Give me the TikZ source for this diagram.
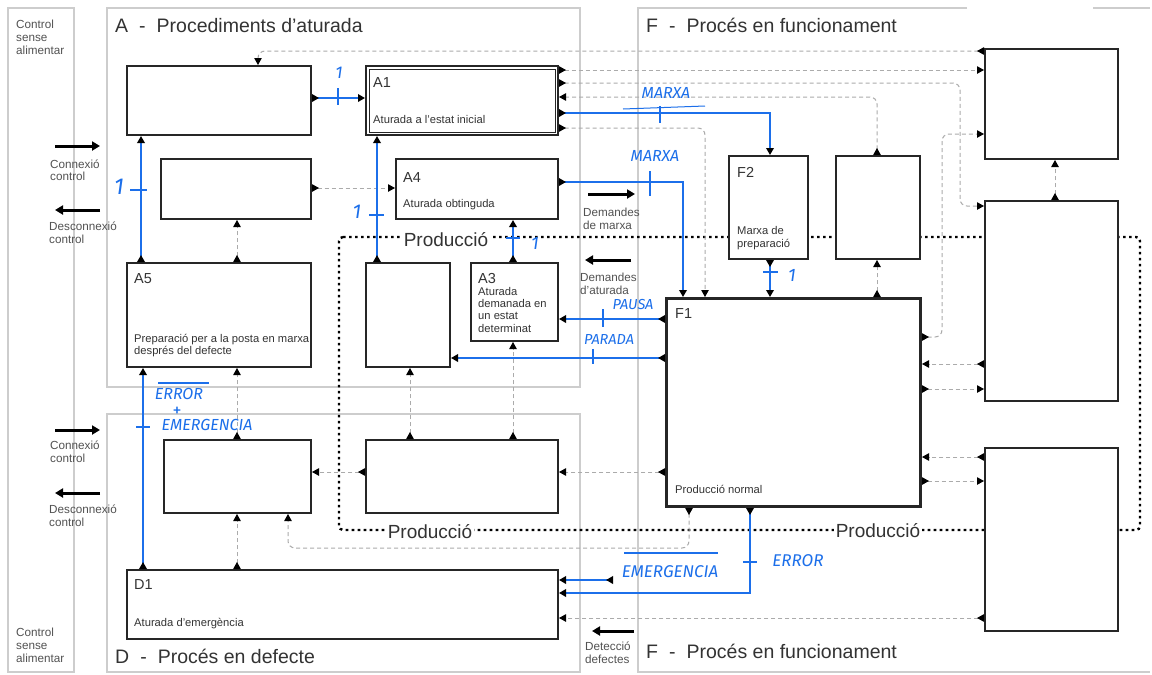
\documentclass[tikz,border=0pt]{standalone}
\usepackage{fontspec}
\setmainfont{Liberation Sans}
\newfontfamily\handfont{Fira Sans}
\usetikzlibrary{arrows.meta}

\definecolor{ink}{HTML}{333333}
\definecolor{panel}{HTML}{CDCDCD}
\definecolor{wire}{HTML}{ABABAB}
\definecolor{pen}{HTML}{1C6FEA}

\tikzset{
  mk/.tip={Triangle[length=7pt,width=7.5pt,color=black]},
  panelline/.style={draw=panel, line width=1.1pt},
  box/.style={draw=black!85, line width=2pt, fill=white, inner sep=0pt, anchor=north west},
  idtxt/.style={text=ink, font=\fontsize{14.5}{16}\selectfont, inner sep=0pt, anchor=base west},
  desc/.style={text=ink, font=\fontsize{11.2}{12}\selectfont, inner sep=0pt, anchor=base west},
  legtxt/.style={text=ink!85, font=\fontsize{11.7}{13}\selectfont, inner sep=0pt, anchor=base west},
  title/.style={text=ink, font=\fontsize{19.5}{22}\selectfont, inner sep=0pt, anchor=base west},
  prodtxt/.style={text=ink, font=\fontsize{19}{22}\selectfont, fill=white, inner sep=2pt, anchor=base},
  wire/.style={draw=wire, line width=1pt, dash pattern=on 4pt off 3pt, rounded corners=7pt, arrows={mk[reversed]-mk}},
  bluewire/.style={draw=pen, line width=2.8pt, arrows={mk[reversed]-mk}},
  tick/.style={draw=pen, line width=2.6pt},
  handtxt/.style={text=pen, font=\handfont\itshape\fontsize{16}{18}\selectfont, inner sep=0pt},
  capsonly/.style={text height=11pt, text depth=0pt},
  legarrow/.style={draw=black, line width=3pt, -{Triangle[length=8pt,width=9pt]}},
  prodline/.style={draw=black, line width=2.4pt, dash pattern=on 2.6pt off 3.4pt, rounded corners=4pt}
}

\begin{document}
\begin{tikzpicture}[x=1pt,y=-1pt]
\useasboundingbox[fill=white] (0,0) rectangle (1152,675);

% ---------- panels ----------
\draw[panelline] (8,8) rectangle (74,672);
\draw[panelline] (107,8) rectangle (580,387);
\draw[panelline] (107,414) rectangle (580,672);
\draw[panelline] (967,8) -- (638,8) -- (638,672) -- (1150,672);
\draw[panelline] (1093,8) -- (1150,8);

% ---------- production loop ----------
\draw[prodline] (339,237) -- (1140,237) -- (1140,530) -- (339,530) -- cycle;

% ---------- states ----------
\node[box, minimum width=184pt, minimum height=69pt]  (a6) at (126,65) {};
\node[box, minimum width=192pt, minimum height=69pt]  (a1) at (365,65) {};
\draw[line width=1pt, black!85] ([shift={(4,4)}]a1.north west) rectangle ([shift={(-4,-4)}]a1.south east);
\node[box, minimum width=150pt, minimum height=60pt]  (a7) at (160,158) {};
\node[box, minimum width=162pt, minimum height=60pt]  (a4) at (395,158) {};
\node[box, minimum width=184pt, minimum height=104pt] (a5) at (126,262) {};
\node[box, minimum width=84pt,  minimum height=104pt] (a2) at (365,262) {};
\node[box, minimum width=87pt,  minimum height=78pt]  (a3) at (470,262) {};
\node[box, minimum width=79pt,  minimum height=103pt] (f2) at (728,155) {};
\node[box, minimum width=84pt,  minimum height=103pt] (f3) at (835,155) {};
\node[box, line width=3pt, minimum width=254pt, minimum height=208pt] (f1) at (665,297) {};
\node[box, minimum width=133pt, minimum height=110pt] (f4) at (984,48) {};
\node[box, minimum width=133pt, minimum height=200pt] (f5) at (984,200) {};
\node[box, minimum width=133pt, minimum height=183pt] (f6) at (984,447) {};
\node[box, minimum width=147pt, minimum height=73pt]  (d2) at (163,439) {};
\node[box, minimum width=192pt, minimum height=73pt]  (d3) at (365,439) {};
\node[box, minimum width=431pt, minimum height=69pt]  (d1) at (126,569) {};

% state names and descriptions
\node[idtxt] (a1id) at ([shift={(8,22)}]a1.north west) {A1};
\node[desc]  (a1tx) at ([shift={(8,58)}]a1.north west) {Aturada a l'estat inicial};
\node[idtxt] (a4id) at ([shift={(8,24)}]a4.north west) {A4};
\node[desc]  (a4tx) at ([shift={(8,49)}]a4.north west) {Aturada obtinguda};
\node[idtxt] (a5id) at ([shift={(8,21)}]a5.north west) {A5};
\node[desc]  (a5t1) at ([shift={(8,80)}]a5.north west) {Preparació per a la posta en marxa};
\node[desc]  (a5t2) at ([shift={(8,92)}]a5.north west) {després del defecte};
\node[idtxt] (a3id) at ([shift={(8,21)}]a3.north west) {A3};
\node[desc]  (a3t1) at ([shift={(8,33)}]a3.north west) {Aturada};
\node[desc]  (a3t2) at ([shift={(8,45)}]a3.north west) {demanada en};
\node[desc]  (a3t3) at ([shift={(8,57.5)}]a3.north west) {un estat};
\node[desc]  (a3t4) at ([shift={(8,70)}]a3.north west) {determinat};
\node[idtxt] (f2id) at ([shift={(9,22)}]f2.north west) {F2};
\node[desc]  (f2t1) at ([shift={(9,79)}]f2.north west) {Marxa de};
\node[desc]  (f2t2) at ([shift={(9,92)}]f2.north west) {preparació};
\node[idtxt] (f1id) at ([shift={(10,21)}]f1.north west) {F1};
\node[desc]  (f1tx) at ([shift={(10,196)}]f1.north west) {Producció normal};
\node[idtxt] (d1id) at ([shift={(8,20)}]d1.north west) {D1};
\node[desc]  (d1tx) at ([shift={(8,57)}]d1.north west) {Aturada d'emergència};

% loop labels
\node[prodtxt] (prod1) at (446,246) {Producció};
\node[prodtxt] (prod2) at (430,538) {Producció};
\node[prodtxt] (prod3) at (878,537) {Producció};

% ---------- panel titles ----------
\node[title] (tA) at (115,32) {A\hspace{11pt}-\hspace{11pt}Procediments d'aturada};
\node[title] (tF) at (646,32) {F\hspace{11pt}-\hspace{11pt}Procés en funcionament};
\node[title] (tD) at (115,663) {D\hspace{11pt}-\hspace{11pt}Procés en defecte};
\node[title] (tF2) at (646,658) {F\hspace{11pt}-\hspace{11pt}Procés en funcionament};

% ---------- side legends ----------
\node[legtxt] (cs1) at (16,28) {Control};
\node[legtxt] (cs2) at (16,41) {sense};
\node[legtxt] (cs3) at (16,54) {alimentar};
\node[legtxt] (cs4) at (16,636) {Control};
\node[legtxt] (cs5) at (16,649) {sense};
\node[legtxt] (cs6) at (16,662) {alimentar};

\draw[legarrow] (55,146) -- (100,146);
\node[legtxt] (cn1) at (50,168) {Connexió};
\node[legtxt] (cn2) at (50,180) {control};
\draw[legarrow] (100,210) -- (55,210);
\node[legtxt] (dc1) at (49,230) {Desconnexió};
\node[legtxt] (dc2) at (49,243) {control};
\draw[legarrow] (55,430) -- (100,430);
\node[legtxt] (cn3) at (50,449) {Connexió};
\node[legtxt] (cn4) at (50,462) {control};
\draw[legarrow] (100,493) -- (55,493);
\node[legtxt] (dc3) at (49,513) {Desconnexió};
\node[legtxt] (dc4) at (49,526) {control};

\draw[legarrow] (588,194) -- (635,194);
\node[legtxt] (dm1) at (583,216) {Demandes};
\node[legtxt] (dm2) at (583,229) {de marxa};
\draw[legarrow] (631,260) -- (585,260);
\node[legtxt] (da1) at (580,281) {Demandes};
\node[legtxt] (da2) at (580,294) {d'aturada};
\draw[legarrow] (634,631) -- (592,631);
\node[legtxt] (dd1) at (585,650) {Detecció};
\node[legtxt] (dd2) at (585,663) {defectes};

% ---------- transitions ----------
\draw[wire] (f4.west |- 0,51) -- (258,51) -- (a6.north -| 258,0);
\draw[wire] (a1.east |- 0,70) -- (f4.west |- 0,70);
\draw[wire] (a1.east |- 0,83) -- (960,83) -- (960,206) -- (f5.west |- 0,206);
\draw[wire] (f3.north -| 877,0) -- (877,97) -- (a1.east |- 0,97);
\draw[wire] (a1.east |- 0,128) -- (705,128) -- (f1.north -| 705,0);
\draw[wire] (a7.east |- 0,188) -- (a4.west |- 0,188);
\draw[wire] (a5.north -| 237,0) -- (a7.south -| 237,0);
\draw[wire] (d2.north -| 237,0) -- (a5.south -| 237,0);
\draw[wire] (d1.north -| 237,0) -- (d2.south -| 237,0);
\draw[wire] (f1.south -| 689,0) -- (689,548) -- (288,548) -- (d2.south -| 288,0);
\draw[wire] (d3.west |- 0,472) -- (d2.east |- 0,472);
\draw[wire] (f1.west |- 0,472) -- (d3.east |- 0,472);
\draw[wire] (d3.north -| 410,0) -- (a2.south -| 410,0);
\draw[wire] (d3.north -| 513,0) -- (a3.south -| 513,0);
\draw[wire] (f6.west |- 0,618) -- (d1.east |- 0,618);
\draw[wire] (f1.north -| 877,0) -- (f3.south -| 877,0);
\draw[wire] (f1.east |- 0,337) -- (942,337) -- (942,134) -- (f4.west |- 0,134);
\draw[wire] (f5.west |- 0,364) -- (f1.east |- 0,364);
\draw[wire] (f1.east |- 0,389) -- (f5.west |- 0,389);
\draw[wire] (f6.west |- 0,457) -- (f1.east |- 0,457);
\draw[wire] (f1.east |- 0,481) -- (f6.west |- 0,481);
\draw[wire] (f5.north -| 1055,0) -- (f4.south -| 1055,0);

% ---------- pen-marked transitions ----------
\coordinate (emg) at (613,580);
\draw[bluewire] (a6.east |- 0,98) -- (a1.west |- 0,98);
\draw[bluewire] (a5.north -| 141,0) -- (a6.south -| 141,0);
\draw[bluewire] (a2.north -| 377,0) -- (a1.south -| 377,0);
\draw[bluewire] (a3.north -| 513,0) -- (a4.south -| 513,0);
\draw[bluewire] (d1.north -| 143,0) -- (a5.south -| 143,0);
\draw[bluewire] (a1.east |- 0,113) -- (770,113) -- (f2.north -| 770,0);
\draw[bluewire] (a4.east |- 0,182) -- (683,182) -- (f1.north -| 683,0);
\draw[bluewire] (f2.south -| 770,0) -- (f1.north -| 770,0);
\draw[bluewire] (f1.west |- 0,319) -- (a3.east |- 0,319);
\draw[bluewire] (f1.west |- 0,358) -- (a2.east |- 0,358);
\draw[bluewire] (f1.south -| 750,0) -- (750,593) -- (d1.east |- 0,593);
\draw[bluewire] (emg) -- (d1.east |- 0,580);

% receptivity ticks
\draw[tick] (338,88) -- (338,105);
\draw[tick] (130,190) -- (147,190);
\draw[tick] (369,215) -- (384,215);
\draw[tick] (506,238) -- (520,238);
\draw[tick] (136,427) -- (150,427);
\draw[tick] (660,106) -- (660,123);
\draw[tick] (650,171) -- (650,196);
\draw[tick] (763,272) -- (778,272);
\draw[tick] (603,309) -- (603,327);
\draw[tick] (593,349) -- (593,364);
\draw[tick] (743,562) -- (757,562);
\draw[pen, line width=1pt] (623,109) -- (705,106);

% receptivity labels
\node[handtxt, font=\handfont\itshape\fontsize{17}{18}\selectfont] (r1) at (339,73) {1};
\node[handtxt, font=\handfont\itshape\fontsize{23}{24}\selectfont] (r2) at (119,187) {1};
\node[handtxt, font=\handfont\itshape\fontsize{20}{22}\selectfont] (r3) at (357,212) {1};
\node[handtxt, font=\handfont\itshape\fontsize{18}{20}\selectfont] (r4) at (535,243) {1};
\node[handtxt, font=\handfont\itshape\fontsize{18}{20}\selectfont] (r5) at (792,275) {1};
\node[handtxt] (m1) at (666,93) {MARXA};
\node[handtxt] (m2) at (655,156) {MARXA};
\node[handtxt, font=\handfont\itshape\fontsize{14.5}{16}\selectfont] (pa) at (633,304) {PAUSA};
\node[handtxt, font=\handfont\itshape\fontsize{14.5}{16}\selectfont] (pd) at (609,339) {PARADA};
\node[handtxt, capsonly] (e1) at (179,394) {ERROR};
\draw[pen, line width=1.2pt] (158,383) -- (209,383);
\node[handtxt, font=\handfont\fontsize{18}{18}\selectfont, anchor=base] (e2) at (177,416) {+};
\node[handtxt, capsonly] (e3) at (207,425) {EMERGENCIA};
\node[handtxt, font=\handfont\itshape\fontsize{17}{18}\selectfont] (e4) at (670,572) {EMERGENCIA};
\draw[pen, line width=1.2pt] (624,553) -- (718,553);
\node[handtxt, font=\handfont\itshape\fontsize{17}{18}\selectfont] (e5) at (798,561) {ERROR};
\end{tikzpicture}
\end{document}
